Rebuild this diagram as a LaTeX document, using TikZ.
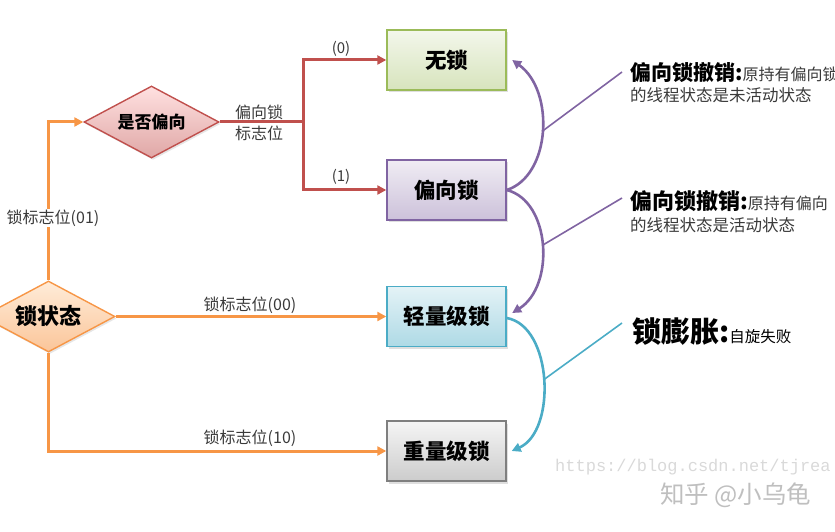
\documentclass[tikz,border=0pt]{standalone}
\usepackage{fontspec}
\setmainfont{Noto Sans CJK SC}
\newfontfamily\wmmono{Liberation Mono}
\usetikzlibrary{arrows.meta,shapes.geometric,shadows}
\definecolor{orangeL}{HTML}{F79646}
\definecolor{redL}{HTML}{C0504D}
\definecolor{purpleL}{HTML}{8064A2}
\definecolor{cyanL}{HTML}{4BACC6}
\definecolor{greenB}{HTML}{9BBB59}
\definecolor{grayB}{HTML}{7F7F7F}
\definecolor{txtgray}{HTML}{3A3A3A}
\tikzset{
  tipA/.style={-{Triangle[length=9pt,width=9pt]}},
  lockbox/.style={rectangle, minimum width=119pt, minimum height=60pt, inner sep=0pt,
    line width=1.4pt, font=\fontsize{21.5}{24}\selectfont\bfseries,
    drop shadow={shadow xshift=2pt, shadow yshift=-2.5pt, opacity=0.25}},
  decision/.style={diamond, aspect=1.875, inner sep=0pt, line width=1.4pt,
    drop shadow={shadow xshift=1.5pt, shadow yshift=-2pt, opacity=0.2}},
  orangeline/.style={draw=orangeL, line width=3pt, tipA},
  redline/.style={draw=redL, line width=3pt},
  purplearc/.style={draw=purpleL, line width=2.6pt, tipA},
  cyanarc/.style={draw=cyanL, line width=2.6pt, tipA},
  pointer/.style={line width=1.6pt},
  edgelbl/.style={text=txtgray, inner sep=1pt, font=\fontsize{16}{21}\selectfont},
  titlelbl/.style={anchor=base west, inner sep=0pt, font=\fontsize{21}{24}\selectfont\bfseries},
  desclbl/.style={anchor=base west, inner sep=0pt, text=txtgray, font=\fontsize{16.5}{19}\selectfont},
}
\begin{document}
\begin{tikzpicture}[x=1pt,y=1pt]
\useasboundingbox (0,0) rectangle (835,531);
\clip (0,0) rectangle (835,531);

% decisions
\node[decision, minimum width=133pt, minimum height=71pt, draw=orangeL,
      top color=orange!15, bottom color=orangeL!55,
      font=\fontsize{22}{24}\selectfont\bfseries] (lock) at (48.5,214.5) {锁状态};
\node[decision, minimum width=135pt, minimum height=72pt, draw=redL,
      top color=red!12, bottom color=redL!50,
      font=\fontsize{17}{20}\selectfont\bfseries] (bias) at (151.5,409) {是否偏向};

% lock boxes
\node[lockbox, draw=greenB, top color=greenB!12, bottom color=greenB!40] (wu) at (446.5,471) {无锁};
\node[lockbox, draw=purpleL, top color=purpleL!12, bottom color=purpleL!40] (pian) at (446.5,341) {偏向锁};
\node[lockbox, draw=cyanL, top color=cyanL!15, bottom color=cyanL!45] (light) at (446.5,214.5) {轻量级锁};
\node[lockbox, draw=grayB, top color=gray!8, bottom color=gray!40] (heavy) at (446.5,80) {重量级锁};

% orange connectors
\draw[orangeline] (lock.north) |- (bias.west);
\draw[orangeline] (lock.east) -- (light.west);
\draw[orangeline] (lock.south) |- (heavy.west);
\node[edgelbl, fill=white] (l01) at (53,313) {锁标志位(01)};
\node[edgelbl] (l00) at (250,226) {锁标志位(00)};
\node[edgelbl] (l10) at (250,93) {锁标志位(10)};

% red connectors
\coordinate (br) at (303,409);
\draw[redline] (bias.east) -- (br);
\draw[redline, tipA] (br) |- (wu.west);
\draw[redline, tipA] (br) |- (pian.west);
\node[edgelbl, align=left] (lbias) at (259,408) {偏向锁\\标志位};
\node[edgelbl, font=\fontsize{15}{18}\selectfont] (l0) at (341,482) {(0)};
\node[edgelbl, font=\fontsize{15}{18}\selectfont] (l1) at (341,354) {(1)};

% arcs
\draw[purplearc] (pian.east) .. controls +(44,14) and +(43,-31) .. ([xshift=5.5pt]wu.east) coordinate[pos=0.5] (p1);
\draw[purplearc] (pian.east) .. controls +(44,-11) and +(43,27) .. ([xshift=5.5pt,yshift=3.5pt]light.east) coordinate[pos=0.5] (p2);
\draw[cyanarc] ([yshift=-1.5pt]light.east) .. controls +(46,-8) and +(45,20) .. ([xshift=5pt]heavy.east) coordinate[pos=0.5] (p3);

% callouts
\coordinate (c1) at (622,459);
\coordinate (c2) at (622,333);
\coordinate (c3) at (622,208);
\draw[pointer, draw=purpleL] (p1) -- (c1);
\draw[pointer, draw=purpleL] (p2) -- (c2);
\draw[pointer, draw=cyanL] (p3) -- (c3);

\node[titlelbl] (t1) at (630,450) {偏向锁撤销:{\mdseries\fontsize{16}{19}\selectfont\color{txtgray}原持有偏向锁}};
\node[desclbl] (d1) at (630,429) {的线程状态是未活动状态};
\node[titlelbl, font=\fontsize{22}{24}\selectfont\bfseries] (t2) at (630,321) {偏向锁撤销:{\mdseries\fontsize{16}{19}\selectfont\color{txtgray}原持有偏向}};
\node[desclbl] (d2) at (630,300) {的线程状态是活动状态};
\node[titlelbl, font=\fontsize{29}{32}\selectfont\bfseries] (t3) at (632,189) {锁膨胀:{\mdseries\fontsize{15.5}{18}\selectfont 自旋失败}};

% watermarks
\node[anchor=west, inner sep=0pt, text=gray!30, font=\wmmono\fontsize{17}{20}\selectfont] (wm1) at (555,64) {https://blog.csdn.net/tjrea};
\node[anchor=west, inner sep=0pt, text=gray!50, font=\fontsize{24.5}{27}\selectfont] (wm2) at (660,36) {知乎 @小乌龟};
\end{tikzpicture}
\end{document}
